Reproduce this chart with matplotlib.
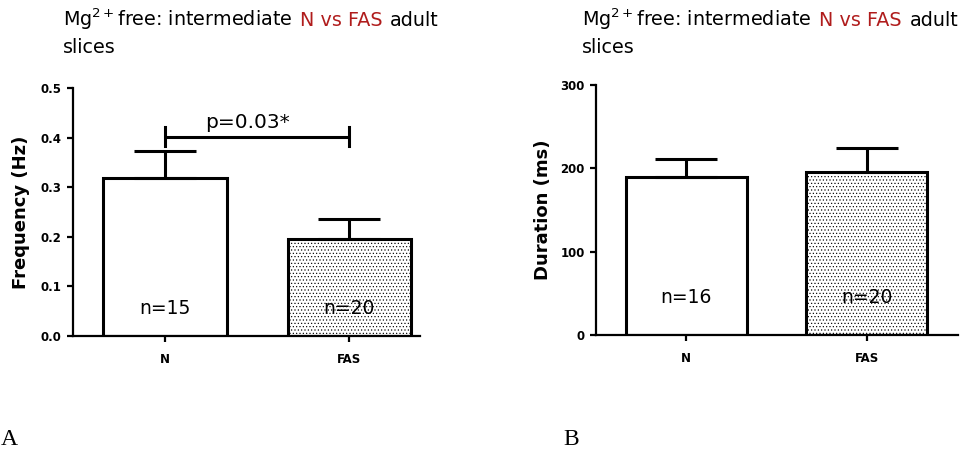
import numpy as np
import matplotlib.pyplot as plt
from matplotlib.offsetbox import TextArea, HPacker, AnchoredOffsetbox

plt.rcParams['font.family'] = ['DejaVu Sans']
plt.rcParams['hatch.linewidth'] = 0.45

groups = ['N', 'FAS']

# frequency panel (Hz)
freq_mean = [0.318, 0.196]
freq_sem = [0.054, 0.040]
freq_n = [15, 20]
freq_p = 'p=0.03*'
freq_sig_y = 0.402

# duration panel (ms)
dur_mean = [189, 195]
dur_sem = [22, 29]
dur_n = [16, 20]

RED = '#b01c1c'
LW_BAR = 2.2
LW_AX = 1.6


def bar_panel(ax, means, sems, ns, n_y, ylim, yticks, ylabel, xmax, labelpad):
    x = np.arange(len(groups))
    ax.bar(x, means, width=0.67, color='white', edgecolor='black',
           linewidth=LW_BAR, zorder=2)
    # dotted fill on the FAS bar
    ax.patches[1].set_hatch('.....')
    ax.errorbar(x, means, yerr=[np.zeros(len(x)), sems], fmt='none',
                ecolor='black', elinewidth=LW_BAR, capsize=22,
                capthick=LW_BAR, zorder=3)
    for xi, n in zip(x, ns):
        ax.text(xi, n_y, f'n={n}', ha='center', va='center', fontsize=13.5,
                zorder=4)
    ax.set_xlim(-0.5, xmax)
    ax.set_ylim(*ylim)
    ax.set_yticks(yticks)
    ax.set_xticks(x)
    ax.set_xticklabels(groups)
    ax.set_ylabel(ylabel, fontsize=13, fontweight='bold', labelpad=labelpad)
    for s in ['top', 'right']:
        ax.spines[s].set_visible(False)
    for s in ['left', 'bottom']:
        ax.spines[s].set_linewidth(LW_AX)
    ax.tick_params(axis='y', length=4.5, width=LW_AX, pad=3.5)
    ax.tick_params(axis='x', length=4.5, width=LW_AX, pad=7.5)
    for lab in ax.get_xticklabels() + ax.get_yticklabels():
        lab.set_fontweight('bold')
        lab.set_fontsize(8.5)


def title(fig, x, y1, y2):
    parts = [('Mg$^{2+}$free: intermediate', 'black'),
             ('N vs FAS', RED),
             ('adult', 'black')]
    boxes = [TextArea(t, textprops=dict(color=c, fontsize=13.8))
             for t, c in parts]
    row = HPacker(children=boxes, align='baseline', pad=0, sep=5.5)
    anch = AnchoredOffsetbox(loc='lower left', child=row, pad=0, borderpad=0,
                             frameon=False, bbox_to_anchor=(x, y1),
                             bbox_transform=fig.transFigure)
    fig.add_artist(anch)
    fig.text(x, y2, 'slices', fontsize=13.8, va='baseline')


fig = plt.figure(figsize=(9.73, 4.53), dpi=100)

axA = fig.add_axes([0.075, 0.258, 0.357, 0.548])
bar_panel(axA, freq_mean, freq_sem, freq_n, 0.056, (0, 0.5),
          [0.0, 0.1, 0.2, 0.3, 0.4, 0.5], 'Frequency (Hz)', 1.386, 8)
axA.yaxis.set_major_formatter(plt.FormatStrFormatter('%.1f'))
# significance bracket between the two groups
axA.plot([0, 1], [freq_sig_y, freq_sig_y], color='black', lw=LW_BAR,
         solid_capstyle='butt')
axA.plot([0, 0], [freq_sig_y - 0.02, freq_sig_y + 0.02], color='black',
         lw=LW_BAR)
axA.plot([1, 1], [freq_sig_y - 0.02, freq_sig_y + 0.02], color='black',
         lw=LW_BAR)
axA.text(0.45, freq_sig_y + 0.028, freq_p, ha='center', va='center',
         fontsize=14.5)

axB = fig.add_axes([0.6125, 0.2605, 0.372, 0.552])
bar_panel(axB, dur_mean, dur_sem, dur_n, 45, (0, 300), [0, 100, 200, 300],
          'Duration (ms)', 1.504, 6)

title(fig, 0.0644, 0.929, 0.883)
title(fig, 0.5985, 0.929, 0.883)

fig.text(0.001, 0.018, 'A', family='Liberation Serif', fontsize=17)
fig.text(0.5786, 0.018, 'B', family='Liberation Serif', fontsize=17)

fig.savefig('out.png', dpi=100)
